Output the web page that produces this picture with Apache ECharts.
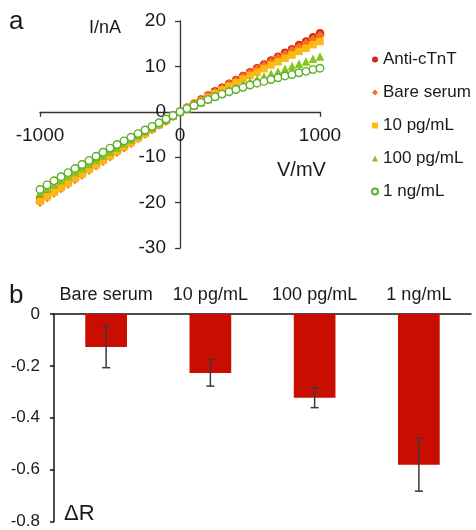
<!DOCTYPE html>
<html>
<head>
<meta charset="utf-8">
<script src="https://cdn.jsdelivr.net/npm/echarts@6/dist/echarts.min.js"></script>
<style>
  html, body { margin: 0; padding: 0; background: #fff; }
  #chart { width: 476px; height: 530px; }
</style>
</head>
<body>
<div id="chart"></div>
<script>
// panel a: I-V curves
const voltages = [-1000, -950, -900, -850, -800, -750, -700, -650, -600, -550, -500, -450, -400, -350, -300, -250, -200, -150, -100, -50,
  0, 50, 100, 150, 200, 250, 300, 350, 400, 450, 500, 550, 600, 650, 700, 750, 800, 850, 900, 950, 1000];

const antiCTnT = [-19.1, -18.1, -17.1, -16.1, -15.2, -14.2, -13.2, -12.3, -11.3, -10.4, -9.4, -8.5, -7.5, -6.6, -5.6, -4.7, -3.8, -2.8, -1.9, -0.9,
  0, 0.9, 1.8, 2.7, 3.6, 4.5, 5.3, 6.2, 7.0, 7.9, 8.7, 9.6, 10.4, 11.3, 12.1, 13.0, 13.8, 14.7, 15.5, 16.4, 17.3];
const bareSerum = [-19.9, -18.9, -17.9, -16.9, -15.9, -14.9, -13.9, -12.9, -11.9, -10.9, -9.9, -8.9, -7.9, -6.9, -5.9, -4.9, -3.9, -2.9, -2.0, -1.0,
  0, 0.9, 1.8, 2.6, 3.5, 4.4, 5.2, 6.1, 6.9, 7.8, 8.6, 9.4, 10.2, 11.0, 11.9, 12.7, 13.5, 14.3, 15.1, 16.0, 16.8];
const pg10 = [-19.7, -18.7, -17.7, -16.7, -15.7, -14.7, -13.7, -12.7, -11.7, -10.7, -9.7, -8.7, -7.7, -6.8, -5.8, -4.8, -3.8, -2.9, -1.9, -0.9,
  0, 0.8, 1.6, 2.4, 3.2, 4.0, 4.8, 5.6, 6.4, 7.2, 8.0, 8.7, 9.5, 10.3, 11.0, 11.8, 12.5, 13.3, 14.0, 14.8, 15.5];
const pg100 = [-17.8, -16.9, -16.0, -15.1, -14.2, -13.3, -12.4, -11.5, -10.6, -9.7, -8.8, -7.9, -7.0, -6.1, -5.2, -4.3, -3.5, -2.6, -1.7, -0.8,
  0, 0.7, 1.4, 2.1, 2.8, 3.5, 4.1, 4.8, 5.4, 6.0, 6.6, 7.2, 7.8, 8.4, 8.9, 9.5, 10.1, 10.6, 11.1, 11.7, 12.2];
const ng1 = [-17.1, -16.1, -15.2, -14.3, -13.4, -12.5, -11.6, -10.7, -9.8, -8.9, -8.0, -7.2, -6.4, -5.6, -4.8, -4.0, -3.2, -2.4, -1.6, -0.8,
  0, 0.7, 1.4, 2.1, 2.7, 3.3, 3.9, 4.4, 4.9, 5.4, 5.9, 6.3, 6.7, 7.1, 7.5, 7.9, 8.2, 8.6, 8.9, 9.3, 9.6];

// panel b: delta R
const concLabels = ['Bare serum', '10 pg/mL', '100 pg/mL', '1 ng/mL'];
const deltaR = [-0.127, -0.227, -0.323, -0.581];
const deltaRErr = [0.08, 0.051, 0.038, 0.102];

const font = '"Liberation Sans", Arial, Helvetica, sans-serif';
const axisColor = '#333';
const textColor = '#1a1a1a';

function pairs(ys) {
  return voltages.map((v, i) => [v, ys[i]]);
}

function scatter(name, ys, symbol, size, color, hollow) {
  return {
    name: name,
    type: 'scatter',
    xAxisIndex: 0,
    yAxisIndex: 0,
    symbol: symbol,
    symbolSize: size,
    data: pairs(ys),
    itemStyle: hollow
      ? { color: '#fff', borderColor: color, borderWidth: 1.4, opacity: 1 }
      : { color: color, opacity: 1 },
    emphasis: { disabled: true }
  };
}

const chart = echarts.init(document.getElementById('chart'));

// grid a: 40..320 wide, 21..248 tall; axes cross at (0, 0)
const gridA = { left: 40, top: 21, width: 280, height: 227 };
const xZeroShift = gridA.width / 2;              // y axis moved to V = 0
const yZeroShift = gridA.height * 30 / 50;        // x axis moved to I = 0

const option = {
  animation: false,
  backgroundColor: '#fff',
  textStyle: { fontFamily: font },
  grid: [
    gridA,
    { left: 54, top: 314, width: 417, height: 208 }
  ],
  legend: {
    orient: 'vertical',
    left: 371,
    top: 51,
    padding: 0,
    itemWidth: 6,
    itemHeight: 6,
    itemGap: 16,
    textStyle: { fontSize: 17, color: textColor, fontFamily: font },
    data: ['Anti-cTnT', 'Bare serum', '10 pg/mL', '100 pg/mL', '1 ng/mL']
  },
  xAxis: [
    {
      type: 'value',
      gridIndex: 0,
      min: -1000,
      max: 1000,
      interval: 1000,
      offset: -yZeroShift,
      axisLine: { onZero: false, lineStyle: { color: axisColor, width: 1.3 } },
      axisTick: { length: 5, lineStyle: { color: axisColor, width: 1.3 } },
      axisLabel: { fontSize: 19, color: textColor, margin: 14, fontFamily: font, formatter: v => String(v) },
      splitLine: { show: false }
    },
    {
      type: 'category',
      gridIndex: 1,
      position: 'top',
      data: concLabels,
      axisLine: { lineStyle: { color: '#111', width: 1.5 } },
      axisTick: { inside: true, length: 4, lineStyle: { color: '#111', width: 1.5 } },
      axisLabel: { interval: 0, fontSize: 18, color: textColor, margin: 10, fontFamily: font },
      splitLine: { show: false }
    }
  ],
  yAxis: [
    {
      type: 'value',
      gridIndex: 0,
      min: -30,
      max: 20,
      interval: 10,
      offset: -xZeroShift,
      axisLine: { show: true, onZero: false, lineStyle: { color: axisColor, width: 1.3 } },
      axisTick: { show: true, length: 5, lineStyle: { color: axisColor, width: 1.3 } },
      axisLabel: { fontSize: 19, color: textColor, margin: 14, fontFamily: font },
      splitLine: { show: false }
    },
    {
      type: 'value',
      gridIndex: 1,
      min: -0.8,
      max: 0,
      interval: 0.2,
      axisLine: { show: true, onZero: false, lineStyle: { color: '#111', width: 1.5 } },
      axisTick: { show: true, length: 4, lineStyle: { color: '#111', width: 1.5 } },
      axisLabel: { fontSize: 17, color: textColor, margin: 14, fontFamily: font },
      splitLine: { show: false }
    }
  ],
  series: [
    scatter('Anti-cTnT', antiCTnT, 'circle', 8.5, '#dc2318', false),
    scatter('Bare serum', bareSerum, 'diamond', 9.5, '#f4711c', false),
    scatter('10 pg/mL', pg10, 'rect', 7.5, '#fdb913', false),
    scatter('100 pg/mL', pg100, 'triangle', 8.5, '#84c61b', false),
    scatter('1 ng/mL', ng1, 'circle', 7.5, '#5fae28', true),
    {
      type: 'bar',
      xAxisIndex: 1,
      yAxisIndex: 1,
      data: deltaR,
      barWidth: '40%',
      itemStyle: { color: '#c90d00' },
      emphasis: { disabled: true }
    },
    {
      type: 'custom',
      xAxisIndex: 1,
      yAxisIndex: 1,
      data: deltaR.map((m, i) => [i, m - deltaRErr[i], m + deltaRErr[i]]),
      renderItem: function (params, api) {
        const lo = api.coord([api.value(0), api.value(1)]);
        const hi = api.coord([api.value(0), api.value(2)]);
        const cap = 4;
        const style = { stroke: '#3a3a3a', lineWidth: 1.5 };
        return {
          type: 'group',
          children: [
            { type: 'line', shape: { x1: lo[0], y1: lo[1], x2: hi[0], y2: hi[1] }, style: style },
            { type: 'line', shape: { x1: lo[0] - cap, y1: lo[1], x2: lo[0] + cap, y2: lo[1] }, style: style },
            { type: 'line', shape: { x1: hi[0] - cap, y1: hi[1], x2: hi[0] + cap, y2: hi[1] }, style: style }
          ]
        };
      },
      z: 5
    }
  ],
  graphic: [
    { type: 'text', left: 9, top: 9, style: { text: 'a', font: '26px ' + font, fill: textColor } },
    { type: 'text', left: 89, top: 19, style: { text: 'I/nA', font: '18px ' + font, fill: textColor } },
    { type: 'text', left: 277, top: 160, style: { text: 'V/mV', font: '20px ' + font, fill: textColor } },
    { type: 'text', left: 9, top: 283, style: { text: 'b', font: '26px ' + font, fill: textColor } },
    { type: 'text', left: 64, top: 503, style: { text: 'ΔR', font: '22px ' + font, fill: textColor } }
  ]
};

chart.setOption(option);
</script>
</body>
</html>
